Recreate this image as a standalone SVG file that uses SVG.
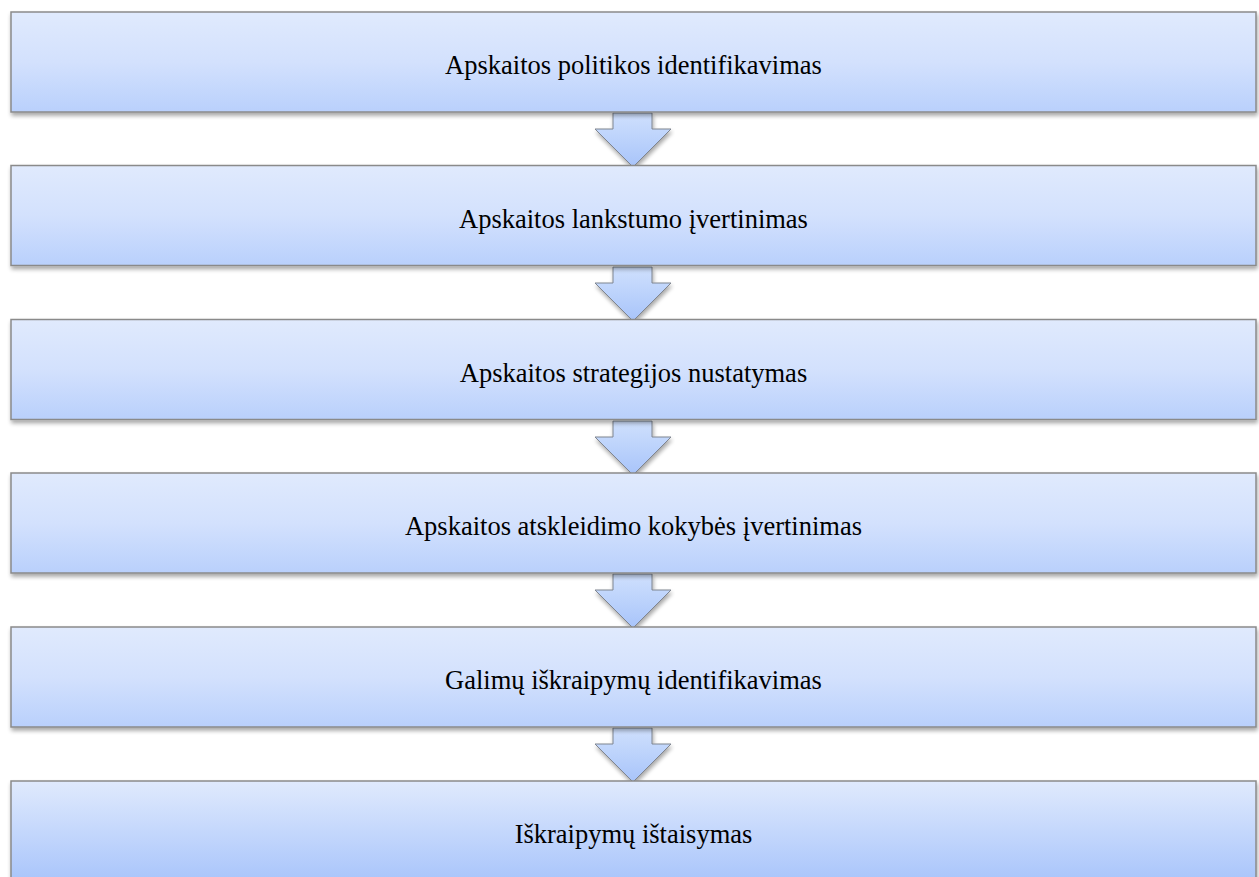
<svg xmlns="http://www.w3.org/2000/svg" width="1259" height="877" viewBox="0 0 1259 877">
<defs>
<linearGradient id="boxg" x1="0" y1="0" x2="0" y2="1">
<stop offset="0" stop-color="#e0eafd"/>
<stop offset="0.5" stop-color="#d3e1fd"/>
<stop offset="1" stop-color="#b9d0fc"/>
</linearGradient>
<linearGradient id="lastg" x1="0" y1="0" x2="0" y2="1">
<stop offset="0" stop-color="#e0eafd"/>
<stop offset="1" stop-color="#a9c5fb"/>
</linearGradient>
<linearGradient id="arrg" x1="0" y1="0" x2="0" y2="1">
<stop offset="0" stop-color="#cfe0fd"/>
<stop offset="1" stop-color="#a8c4fa"/>
</linearGradient>
<filter id="sh" x="-5%" y="-10%" width="110%" height="130%">
<feGaussianBlur in="SourceAlpha" stdDeviation="2"/>
<feOffset dx="1" dy="3" result="b"/>
<feComponentTransfer><feFuncA type="linear" slope="0.35"/></feComponentTransfer>
<feMerge><feMergeNode/><feMergeNode in="SourceGraphic"/></feMerge>
</filter>
</defs>
<style>
.box{fill:url(#boxg);stroke:#8a8a8a;stroke-width:1.5;filter:url(#sh)}
.last{fill:url(#lastg)}
.arr{fill:url(#arrg);stroke:#7f8590;stroke-width:1;filter:url(#sh)}
.t{font-family:"Liberation Serif","Times New Roman",serif;font-size:26.5px;fill:#000;text-anchor:middle}
</style>
<rect width="1259" height="877" fill="#fff"/>
<g id="connectors">
<path class="arr" d="M613 113 H652 V129 H671 L633 167 L595 129 H613 Z"/>
<path class="arr" d="M613 267 H652 V283 H671 L633 321 L595 283 H613 Z"/>
<path class="arr" d="M613 421 H652 V437 H671 L633 475 L595 437 H613 Z"/>
<path class="arr" d="M613 574 H652 V590 H671 L633 628 L595 590 H613 Z"/>
<path class="arr" d="M613 728 H652 V744 H671 L633 782 L595 744 H613 Z"/>
</g>
<g id="node1"><rect class="box" x="11" y="12" width="1245" height="100"/><text class="t" x="633.5" y="74">Apskaitos politikos identifikavimas</text></g>
<g id="node2"><rect class="box" x="11" y="165.5" width="1245" height="100"/><text class="t" x="633.5" y="227.5">Apskaitos lankstumo įvertinimas</text></g>
<g id="node3"><rect class="box" x="11" y="319.5" width="1245" height="100"/><text class="t" x="633.5" y="381.5">Apskaitos strategijos nustatymas</text></g>
<g id="node4"><rect class="box" x="11" y="473" width="1245" height="100"/><text class="t" x="633.5" y="535">Apskaitos atskleidimo kokybės  įvertinimas</text></g>
<g id="node5"><rect class="box" x="11" y="627" width="1245" height="100"/><text class="t" x="633.5" y="689">Galimų iškraipymų identifikavimas</text></g>
<g id="node6"><rect class="box last" x="11" y="781" width="1245" height="100"/><text class="t" x="633.5" y="843">Iškraipymų ištaisymas</text></g>
</svg>
